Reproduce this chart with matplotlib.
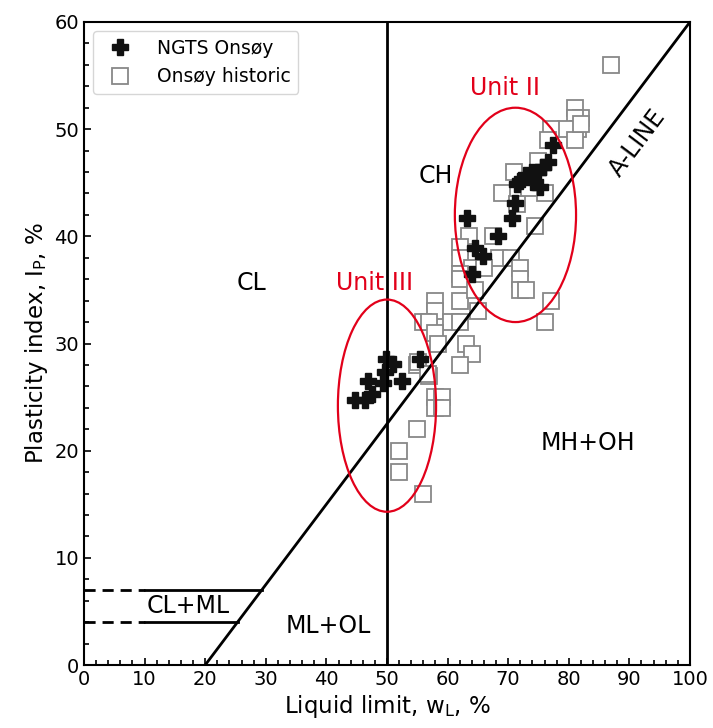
import matplotlib
matplotlib.use("Agg")
import matplotlib.pyplot as plt
from matplotlib.patches import Ellipse
from matplotlib.ticker import MultipleLocator

# NGTS Onsøy (black plus markers)
ngts_wl = [44.8, 46.3, 46.8, 47.5, 49.3, 49.6, 49.8, 51.0, 52.5, 55.4,
           77.4, 76.6, 75.8, 75.0, 73.9, 73.0, 71.9, 71.4, 74.1, 75.2,
           71.1, 70.6, 63.2, 68.4, 64.5, 65.9, 64.0]
ngts_ip = [24.7, 24.7, 26.5, 25.3, 26.3, 27.3, 28.6, 28.1, 26.5, 28.6,
           48.5, 46.9, 46.5, 46.0, 46.0, 45.7, 45.2, 44.9, 45.1, 44.6,
           43.1, 41.7, 41.7, 40.0, 38.9, 38.2, 36.5]

# Onsøy historic (grey open squares)
hist_wl = [87.0, 81.0, 82.0, 81.0, 81.5, 79.5, 77.0, 81.0, 76.5, 82.0,
           71.0, 76.0, 69.0, 71.5, 74.5, 63.5, 67.5, 62.0, 62.0, 68.5,
           70.5, 72.0, 64.0, 62.0, 72.0, 72.0, 73.0, 62.0, 77.0, 76.0,
           58.0, 58.0, 56.0, 57.0, 60.5, 62.0, 62.0, 65.0, 63.0, 64.0,
           62.0, 58.0, 58.5, 55.0, 57.0, 58.0, 59.0, 58.0, 59.0, 55.0,
           52.0, 52.0, 56.0, 64.5, 55.2, 56.8, 73.5, 75.0, 66.0]
hist_ip = [56.0, 52.0, 51.0, 51.0, 50.0, 50.0, 50.0, 49.0, 49.0, 50.5,
           46.0, 44.0, 44.0, 43.0, 41.0, 40.0, 40.0, 39.0, 38.0, 38.0,
           38.0, 37.0, 37.0, 36.5, 36.0, 35.0, 35.0, 36.0, 34.0, 32.0,
           34.0, 33.0, 32.0, 32.0, 32.0, 32.0, 34.0, 33.0, 30.0, 29.0,
           28.0, 31.0, 30.0, 28.0, 27.0, 25.0, 25.0, 24.0, 24.0, 22.0,
           20.0, 18.0, 16.0, 35.0, 28.3, 27.2, 44.5, 47.0, 37.0]

# Chart lines
aline_x = [20, 100]
aline_y = [0, 60]
hline_levels = [7, 4]

fig = plt.figure(figsize=(7.13, 7.28), dpi=100)
ax = fig.add_axes([0.1178, 0.0865, 0.8499, 0.8833])

ax.plot(hist_wl, hist_ip, linestyle='none', marker='s', markersize=11,
        markerfacecolor='white', markeredgecolor='#888888', markeredgewidth=1.3,
        label='Onsøy historic', zorder=3)
ax.plot(ngts_wl, ngts_ip, linestyle='none', marker='P', markersize=11,
        color='#111111', label='NGTS Onsøy', zorder=4)

ax.plot(aline_x, aline_y, color='black', lw=2.0, zorder=5)
ax.plot([50, 50], [0, 60], color='black', lw=2.0, zorder=5)
for lev in hline_levels:
    xe = 20 + lev / 0.75
    ax.plot([0, 10], [lev, lev], color='black', lw=2.0, ls=(0, (4, 2.5)), zorder=5)
    ax.plot([10, xe], [lev, lev], color='black', lw=2.0, zorder=5)

ax.add_patch(Ellipse((50.0, 24.2), 16.2, 19.8, fill=False, edgecolor='#e2001a', lw=1.6, zorder=6))
ax.add_patch(Ellipse((71.2, 42.0), 20.0, 20.0, fill=False, edgecolor='#e2001a', lw=1.6, zorder=6))

fs = 17
ax.text(69.5, 53.8, 'Unit II', color='#e2001a', fontsize=fs, ha='center', va='center')
ax.text(48.0, 35.6, 'Unit III', color='#e2001a', fontsize=fs, ha='center', va='center')
ax.text(58.0, 45.6, 'CH', fontsize=fs, ha='center', va='center')
ax.text(27.7, 35.6, 'CL', fontsize=fs, ha='center', va='center')
ax.text(83.1, 20.7, 'MH+OH', fontsize=fs, ha='center', va='center')
ax.text(40.3, 3.6, 'ML+OL', fontsize=fs, ha='center', va='center')
ax.text(17.2, 5.5, 'CL+ML', fontsize=fs, ha='center', va='center')
ax.text(91.3, 48.7, 'A-LINE', fontsize=fs, ha='center', va='center', rotation=53)

ax.set_xlim(0, 100)
ax.set_ylim(0, 60)
ax.xaxis.set_major_locator(MultipleLocator(10))
ax.xaxis.set_minor_locator(MultipleLocator(2))
ax.yaxis.set_major_locator(MultipleLocator(10))
ax.yaxis.set_minor_locator(MultipleLocator(2))
ax.tick_params(which='both', direction='in', labelsize=14, width=1.2)
ax.tick_params(which='major', length=5)
ax.tick_params(which='minor', length=3.5)
for s in ax.spines.values():
    s.set_linewidth(1.5)

ax.set_xlabel('Liquid limit, w$_\\mathregular{L}$, %', fontsize=16.5, labelpad=3)
ax.set_ylabel('Plasticity index, I$_\\mathregular{P}$, %', fontsize=16.5, labelpad=3)

h, l = ax.get_legend_handles_labels()
ax.legend([h[1], h[0]], [l[1], l[0]], loc='upper left', fontsize=13.5, handletextpad=1.0)

fig.savefig('out.png', dpi=100)
